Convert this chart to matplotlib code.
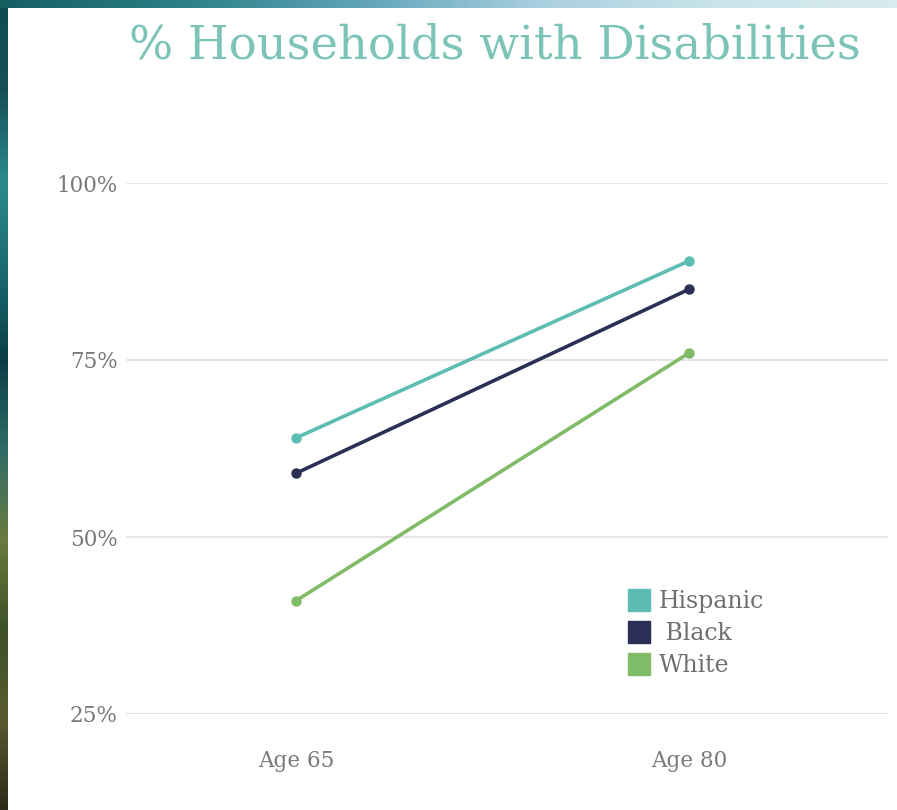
import numpy as np
import matplotlib
matplotlib.use("Agg")
import matplotlib.pyplot as plt
from matplotlib.colors import LinearSegmentedColormap
from matplotlib.lines import Line2D

# Data
ages = ["Age 65", "Age 80"]
hispanic = [64, 89]
black = [59, 85]
white = [41, 76]
series_names = ["Hispanic", " Black", "White"]
series_colors = ["#5dbdb3", "#2c2f55", "#80bb68"]
yticks = [25, 50, 75, 100]
ytick_labels = ["25%", "50%", "75%", "100%"]

W, H = 897, 810
fig = plt.figure(figsize=(W / 100, H / 100), dpi=100)
fig.patch.set_facecolor("white")

# Decorative backdrop strips along the left and top edges
left_cmap = LinearSegmentedColormap.from_list(
    "left", ["#0f4d52", "#164f57", "#2b8b8c", "#1b6a70", "#0b3e46", "#2f6c66",
             "#6a7a40", "#3d5228", "#5a5a30", "#2e2a1a"])
top_cmap = LinearSegmentedColormap.from_list(
    "top", ["#155f63", "#2a7f86", "#5fa3b8", "#a9cfe0", "#c9e3ea", "#d8ecef"])
ax_left = fig.add_axes([0, 0, 8 / W, 1])
ax_left.imshow(np.linspace(0, 1, 256).reshape(-1, 1), aspect="auto", cmap=left_cmap)
ax_left.axis("off")
ax_top = fig.add_axes([0, 1 - 8 / H, 1, 8 / H])
ax_top.imshow(np.linspace(0, 1, 256).reshape(1, -1), aspect="auto", cmap=top_cmap)
ax_top.axis("off")

# Main plotting area
x0, x1 = 126, 888
y_top, y_bot = 183, 714
ax = fig.add_axes([x0 / W, (H - y_bot) / H, (x1 - x0) / W, (y_bot - y_top) / H])
ax.set_facecolor("none")

xs = np.arange(len(ages))
for vals, name, col in zip([hispanic, black, white], series_names, series_colors):
    ax.plot(xs, vals, color=col, lw=2.6, marker="o", ms=6.5, label=name,
            clip_on=False, solid_capstyle="round", zorder=3)

ax.set_xlim(-0.4326, 1.506)
ax.set_ylim(25, 100)
ax.set_yticks(yticks)
ax.set_yticklabels(ytick_labels)
ax.set_xticks(xs)
ax.set_xticklabels(ages)
ax.grid(axis="y", color="#e6e6e6", lw=1.6)
ax.grid(axis="x", visible=False)
ax.set_axisbelow(True)
for s in ax.spines.values():
    s.set_visible(False)
ax.tick_params(axis="both", length=0, colors="#777777")
ax.tick_params(axis="y", pad=6)
ax.tick_params(axis="x", pad=26)
for lab in ax.get_yticklabels() + ax.get_xticklabels():
    lab.set_fontfamily("DejaVu Serif")
    lab.set_fontsize(15.5)
    lab.set_color("#7a7a7a")

handles = [Line2D([0], [0], marker="s", ls="none", ms=15.5, color=c, label=n)
           for n, c in zip(series_names, series_colors)]
leg = ax.legend(handles=handles, loc="center left", bbox_to_anchor=(0.646, 0.151),
                frameon=False, handlelength=0.75, handletextpad=0.45,
                labelspacing=0.38, borderpad=0,
                prop={"family": "DejaVu Serif", "size": 17})
for t in leg.get_texts():
    t.set_color("#6f6f6f")

fig.text(495 / W, 1 - 46 / H, "% Households with Disabilities", ha="center",
         va="center", fontsize=33.5, color="#7cc4b8", family="DejaVu Serif")

fig.savefig("out.png", dpi=100, facecolor=fig.get_facecolor())
